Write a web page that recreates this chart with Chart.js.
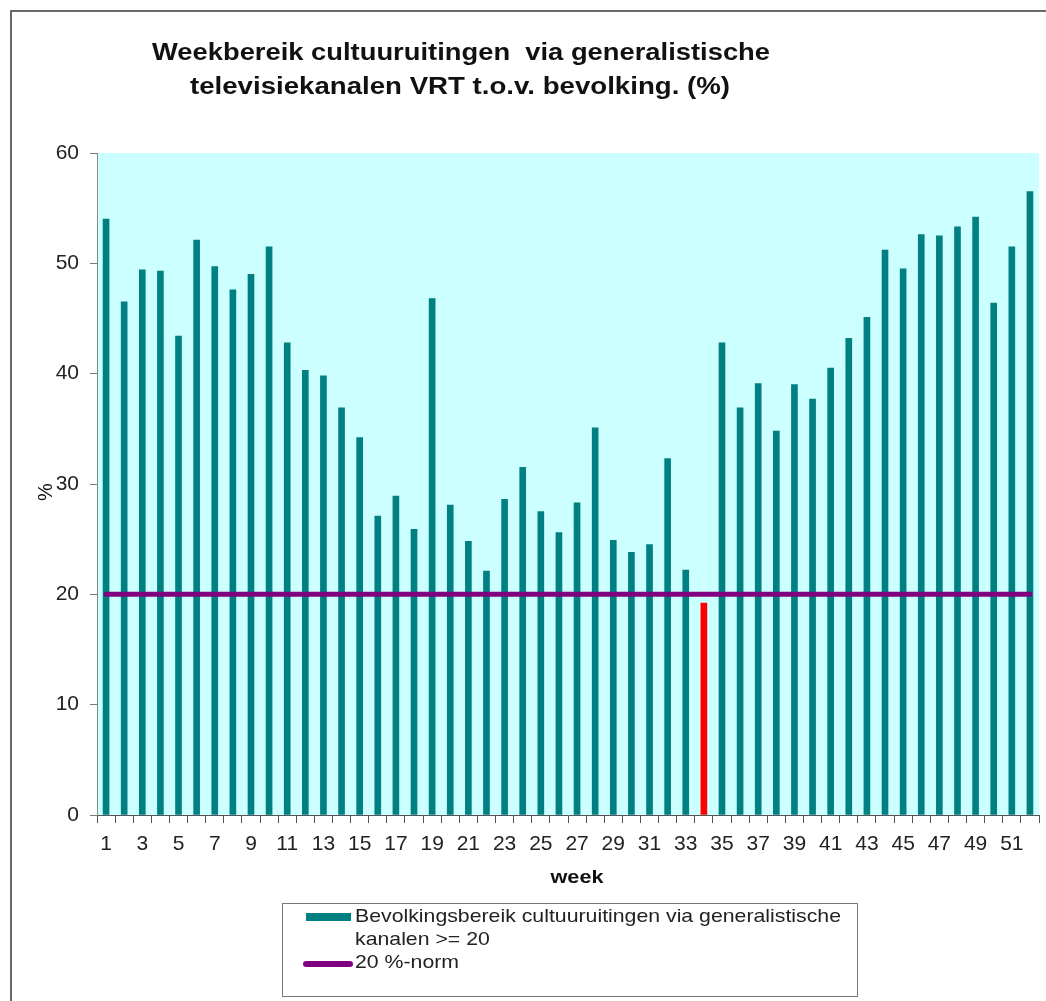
<!DOCTYPE html>
<html>
<head>
<meta charset="utf-8">
<script src="https://cdn.jsdelivr.net/npm/chart.js@4/dist/chart.umd.min.js"></script>
<style>
html,body{margin:0;padding:0;background:#fff;}
#wrap{width:1046px;height:1001px;position:relative;}
</style>
</head>
<body>
<div id="wrap"><canvas id="c" width="1046" height="1001"></canvas></div>
<script>
const weeks = ['1','2','3','4','5','6','7','8','9','10','11','12','13','14','15','16','17','18','19','20','21','22','23','24','25','26','27','28','29','30','31','32','33','34','35','36','37','38','39','40','41','42','43','44','45','46','47','48','49','50','51','52'];
const reach = [54.0,46.5,49.4,49.3,43.4,52.1,49.7,47.6,49.0,51.5,42.8,40.3,39.8,36.9,34.2,27.1,28.9,25.9,46.8,28.1,24.8,22.1,28.6,31.5,27.5,25.6,28.3,35.1,24.9,23.8,24.5,32.3,22.2,19.2,42.8,36.9,39.1,34.8,39.0,37.7,40.5,43.2,45.1,51.2,49.5,52.6,52.5,53.3,54.2,46.4,51.5,56.5];
const norm = [20,20,20,20,20,20,20,20,20,20,20,20,20,20,20,20,20,20,20,20,20,20,20,20,20,20,20,20,20,20,20,20,20,20,20,20,20,20,20,20,20,20,20,20,20,20,20,20,20,20,20,20];
const belowNormWeek = '34';
const yTicks = [0,10,20,30,40,50,60];
const titleLines = ['Weekbereik cultuuruitingen  via generalistische','televisiekanalen VRT t.o.v. bevolking. (%)'];
const seriesNames = ['Bevolkingsbereik cultuuruitingen via generalistische','kanalen >= 20','20 %-norm'];
const xTitle = 'week';
const yTitle = '%';

const TEAL = '#008080', RED = '#FF0000', PURPLE = '#800080';
const FONT = '"Liberation Sans", Arial, sans-serif';

const barColors = weeks.map(w => w === belowNormWeek ? RED : TEAL);

function stretchText(ctx, text, x, y, targetW, align) {
  const w = ctx.measureText(text).width;
  const sx = targetW / w;
  ctx.save();
  ctx.translate(x, y);
  ctx.scale(sx, 1);
  ctx.textAlign = align;
  ctx.fillText(text, 0, 0);
  ctx.restore();
  return sx;
}

const decor = {
  id: 'decor',
  beforeDraw(chart) {
    const {ctx, chartArea: a} = chart;
    ctx.save();
    ctx.fillStyle = '#fff';
    ctx.fillRect(0, 0, chart.width, chart.height);
    ctx.strokeStyle = '#6a6a6a';
    ctx.lineWidth = 2;
    ctx.beginPath();
    ctx.moveTo(11, chart.height + 5);
    ctx.lineTo(11, 11);
    ctx.lineTo(chart.width + 5, 11);
    ctx.stroke();
    ctx.fillStyle = '#CCFFFF';
    ctx.fillRect(a.left, a.top, a.right - a.left, a.bottom - a.top);
    ctx.restore();
  },
  afterDraw(chart) {
    const {ctx} = chart;
    ctx.save();
    ctx.fillStyle = '#111';
    ctx.textBaseline = 'middle';
    ctx.font = 'bold 23px ' + FONT;
    stretchText(ctx, titleLines[0], 461, 54, 618, 'center');
    stretchText(ctx, titleLines[1], 460, 88, 540, 'center');
    ctx.font = 'bold 19px ' + FONT;
    stretchText(ctx, xTitle, 577, 878, 53, 'center');
    ctx.save();
    ctx.translate(46, 492);
    ctx.rotate(-Math.PI / 2);
    ctx.font = '20px ' + FONT;
    ctx.textAlign = 'center';
    ctx.fillText(yTitle, 0, 0);
    ctx.restore();
    ctx.strokeStyle = '#777';
    ctx.lineWidth = 1;
    ctx.strokeRect(282.5, 903.5, 575, 93);
    ctx.fillStyle = TEAL;
    ctx.fillRect(306, 913, 45, 8);
    ctx.strokeStyle = PURPLE;
    ctx.lineWidth = 6;
    ctx.lineCap = 'round';
    ctx.beginPath(); ctx.moveTo(306, 964); ctx.lineTo(350, 964); ctx.stroke();
    ctx.fillStyle = '#222';
    ctx.font = '19px ' + FONT;
    const sx = stretchText(ctx, seriesNames[0], 355, 917, 486, 'left');
    [[seriesNames[1], 940], [seriesNames[2], 963]].forEach(([t, y]) => {
      ctx.save(); ctx.translate(355, y); ctx.scale(sx, 1); ctx.textAlign = 'left'; ctx.fillText(t, 0, 0); ctx.restore();
    });
    ctx.restore();
  }
};

new Chart(document.getElementById('c'), {
  data: {
    labels: weeks,
    datasets: [
      {type: 'line', label: seriesNames[2], data: norm, borderColor: PURPLE, borderWidth: 5,
       pointRadius: 0, tension: 0, order: 0, borderCapStyle: 'round'},
      {type: 'bar', label: seriesNames[0] + ' ' + seriesNames[1], data: reach, backgroundColor: barColors,
       barThickness: 6, order: 1}
    ]
  },
  options: {
    responsive: false,
    animation: false,
    events: [],
    layout: {padding: {left: 0, top: 153, right: 7, bottom: 0}},
    plugins: {legend: {display: false}, title: {display: false}, tooltip: {enabled: false}},
    scales: {
      x: {
        type: 'category',
        offset: true,
        grid: {display: true, drawOnChartArea: false, offset: true, tickLength: 8, color: '#555', lineWidth: 1},
        border: {display: true, color: '#555', width: 1},
        ticks: {
          autoSkip: false, maxRotation: 0, minRotation: 0, padding: 9,
          color: '#222', font: {family: FONT, size: 21},
          callback: function(v, i) { return (i % 2 === 0) ? weeks[i] : ''; }
        },
        afterFit(s) { s.height = 186; }
      },
      y: {
        min: 0, max: 60,
        afterBuildTicks(s) { s.ticks = yTicks.map(v => ({value: v})); },
        grid: {display: true, drawOnChartArea: false, tickLength: 7, color: '#777'},
        border: {display: true, color: '#888', width: 1},
        ticks: {color: '#222', padding: 11, font: {family: FONT, size: 21}},
        afterFit(s) { s.width = 97; }
      }
    }
  },
  plugins: [decor]
});
</script>
</body>
</html>
